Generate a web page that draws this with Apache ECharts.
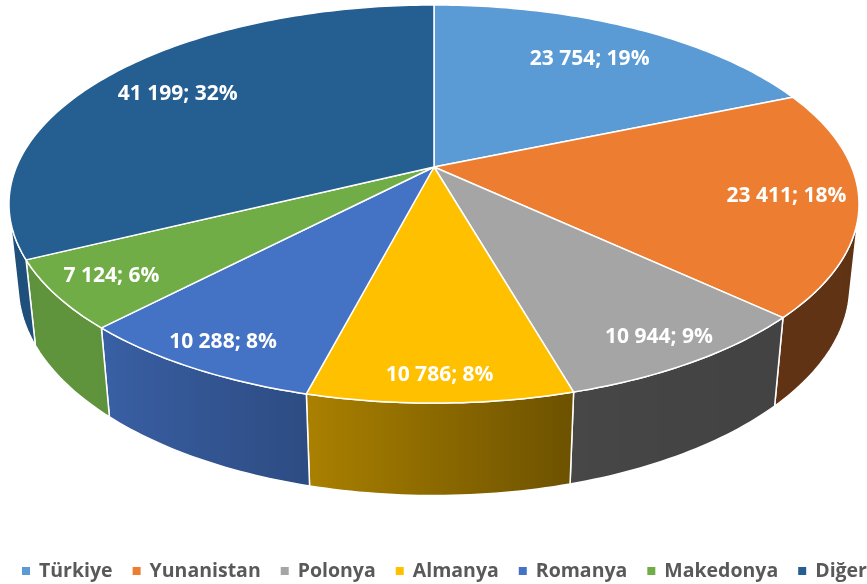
<!DOCTYPE html>
<html><head><meta charset="utf-8">
<script src="https://cdn.jsdelivr.net/npm/echarts@6/dist/echarts.min.js"></script>
<style>html,body{margin:0;padding:0;background:#fff}#c{width:867px;height:584px}</style>
</head><body><div id="c"></div>
<script>
const categories = ['Türkiye', 'Yunanistan', 'Polonya', 'Almanya', 'Romanya', 'Makedonya', 'Diğer'];
const values = [23754, 23411, 10944, 10786, 10288, 7124, 41199];
const colors = ['#5B9BD5', '#ED7D31', '#A5A5A5', '#FFC000', '#4472C4', '#70AD47', '#255E91'];

const total = values.reduce((a, b) => a + b, 0);
const starts = [];
let acc = 0;
values.forEach(v => { starts.push(acc / total * 360); acc += v; });

// 3D perspective projection of the pie disk
const CX = 434, CY = 167, S = 1993.6, D = 4.774, ALPHA = 27.4 * Math.PI / 180;
const CA = Math.cos(ALPHA), SA = Math.sin(ALPHA), H = 0.222;
function proj(r, deg, z) {
  const t = deg * Math.PI / 180;
  const X = r * Math.sin(t), Y = -r * Math.cos(t);
  const w = D - Y * CA - z * SA;
  return [CX + S * X / w, CY + S * (Y * SA - z * CA) / w];
}
const thr = 1 / (D * CA);
const visA = Math.acos(-thr) * 180 / Math.PI, visB = 360 - visA;

const shadeStops = [[90, 0.40], [150, 0.41], [165, 0.43], [196, 0.68], [225, 0.85], [270, 0.84]];
function shadeF(deg) {
  for (let k = 0; k < shadeStops.length - 1; k++) {
    const [d0, f0] = shadeStops[k], [d1, f1] = shadeStops[k + 1];
    if (deg >= d0 && deg <= d1) return f0 + (f1 - f0) * (deg - d0) / (d1 - d0);
  }
  return deg < 90 ? 0.40 : 0.84;
}
function shade(hex, f) {
  const n = parseInt(hex.slice(1), 16);
  const r = Math.round(((n >> 16) & 255) * f), g = Math.round(((n >> 8) & 255) * f), b = Math.round((n & 255) * f);
  return 'rgb(' + r + ',' + g + ',' + b + ')';
}
function fmt(v) { return String(v).replace(/\B(?=(\d{3})+(?!\d))/g, ' '); }

function renderItem(params, api) {
  const i = params.dataIndex;
  const val = api.value(0);
  const a0 = starts[i], a1 = a0 + val / total * 360;
  const col = colors[i];
  const children = [];
  // outer wall (visible front part)
  const v0 = Math.max(a0, visA), v1 = Math.min(a1, visB);
  if (v1 > v0) {
    const n = Math.max(2, Math.ceil(v1 - v0));
    const top = [], bot = [], degs = [];
    for (let k = 0; k <= n; k++) {
      const d = v0 + (v1 - v0) * k / n;
      degs.push(d);
      top.push(proj(1, d, 0));
      bot.push(proj(1, d, -H));
    }
    const pts = top.concat(bot.slice().reverse());
    const xs = pts.map(p => p[0]);
    const xL = Math.min(...xs), xR = Math.max(...xs);
    const stops = degs.map((d, k) => ({
      offset: Math.min(1, Math.max(0, (top[k][0] - xL) / (xR - xL))),
      color: shade(col, shadeF(d))
    })).sort((a, b) => a.offset - b.offset);
    children.push({
      type: 'polygon',
      shape: { points: pts },
      style: {
        fill: { type: 'linear', x: xL, y: 0, x2: xR, y2: 0, global: true, colorStops: stops },
        stroke: '#ffffff', lineWidth: 1.5, lineJoin: 'round'
      }
    });
  }
  // top face
  const n2 = Math.max(2, Math.ceil(a1 - a0));
  const tp = [proj(0, 0, 0)];
  for (let k = 0; k <= n2; k++) tp.push(proj(1, a0 + (a1 - a0) * k / n2, 0));
  children.push({
    type: 'polygon',
    shape: { points: tp },
    style: { fill: col, stroke: '#ffffff', lineWidth: 1.5, lineJoin: 'round' }
  });
  // label
  const mid = (a0 + a1) / 2;
  const Ym = -Math.cos(mid * Math.PI / 180);
  const lp = proj(0.82 + 0.08 * Ym, mid, 0);
  children.push({
    type: 'text',
    z2: 100,
    style: {
      text: fmt(val) + '; ' + Math.round(val / total * 100) + '%',
      x: lp[0], y: lp[1], align: 'center', verticalAlign: 'middle',
      fill: '#ffffff', font: 'bold 21px "Open Sans"'
    }
  });
  return { type: 'group', children: children };
}

const chart = echarts.init(document.getElementById('c'), null, { renderer: 'canvas' });
chart.setOption({
  animation: false,
  color: colors,
  legend: {
    data: categories, left: 17, top: 556, width: 860, icon: 'rect', itemWidth: 8, itemHeight: 8, itemGap: 20,
    selectedMode: false,
    textStyle: { fontFamily: 'Open Sans', fontWeight: 'bold', fontSize: 19.5, color: '#595959', padding: [0, 0, 0, 4] }
  },
  series: [
    {
      type: 'custom', coordinateSystem: 'none', renderItem: renderItem,
      data: values.map((v, i) => ({ name: categories[i], value: [v] })),
      silent: true
    },
    {
      type: 'pie', radius: [0, 0], center: [-500, -500], silent: true,
      label: { show: false }, labelLine: { show: false },
      data: categories.map((n, i) => ({ name: n, value: values[i] }))
    }
  ]
});
</script></body></html>
